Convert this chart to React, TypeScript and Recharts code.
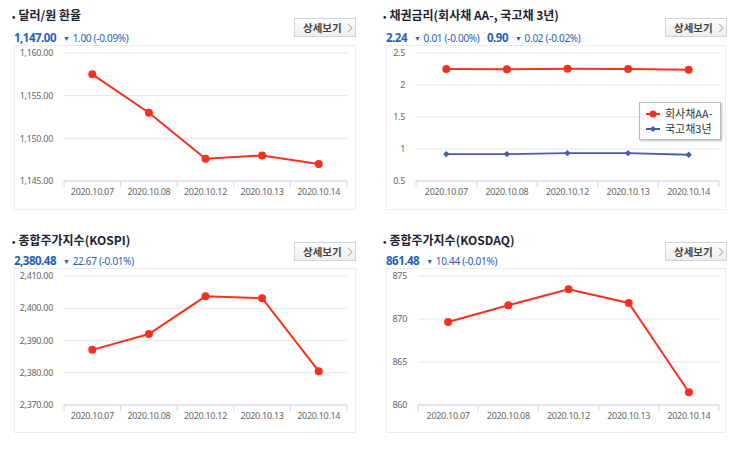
import { LineChart, Line, XAxis, YAxis, CartesianGrid, Legend } from 'recharts'

// categories
const dates = ['2020.10.07', '2020.10.08', '2020.10.12', '2020.10.13', '2020.10.14']

// series values
const usdKrw = [1157.5, 1153.0, 1147.6, 1148.0, 1147.0]
const corpAA = [2.25, 2.245, 2.255, 2.25, 2.24]
const govt3y = [0.92, 0.92, 0.935, 0.935, 0.91]
const kospi = [2387.1, 2392.0, 2403.7, 2403.1, 2380.48]
const kosdaq = [869.65, 871.6, 873.45, 871.86, 861.48]

// y ticks
const usdTicks = [1145, 1150, 1155, 1160]
const bondTicks = [0.5, 1, 1.5, 2, 2.5]
const kospiTicks = [2370, 2380, 2390, 2400, 2410]
const kosdaqTicks = [860, 865, 870, 875]

const RED = '#f8301f'
const BLUE = '#4a5ba8'
const KR = '"Noto Sans CJK KR", "Noto Sans", sans-serif'
const NUM = '"Noto Sans", sans-serif'

const fmt2 = (v: number) => v.toLocaleString('en-US', { minimumFractionDigits: 2, maximumFractionDigits: 2 })
const fmtPlain = (v: number) => String(v)

type Series = { key: string; name: string; values: number[]; color: string; dot: 'circle' | 'diamond' }

const DiamondDot = (props: any) => {
  const { cx, cy, fill } = props
  if (cx == null || cy == null) return null
  const r = 3.2
  return <path d={`M${cx},${cy - r}L${cx + r},${cy}L${cx},${cy + r}L${cx - r},${cy}Z`} fill={fill} />
}

function BandTick(props: any) {
  const { x, y, payload, index, half, count } = props
  const axisY = y - 8
  return (
    <g>
      <line x1={x - half} x2={x - half} y1={axisY} y2={axisY + 6} stroke="#ccd6eb" />
      {index === count - 1 && <line x1={x + half} x2={x + half} y1={axisY} y2={axisY + 6} stroke="#ccd6eb" />}
      <text x={x} y={y} dy="0.71em" textAnchor="middle" fill="#666" fontSize={9} letterSpacing={-0.3} fontFamily={NUM}>
        {payload.value}
      </text>
    </g>
  )
}

function LegendBox({ series }: { series: Series[] }) {
  return (
    <div
      style={{
        background: '#fff',
        border: '1px solid #bbb',
        boxShadow: '1px 1px 2px rgba(0,0,0,0.25)',
        padding: '3px 8px 3px 6px',
        fontFamily: KR,
        fontSize: 11,
        color: '#333',
        lineHeight: '15px',
      }}
    >
      {series.map((s) => (
        <div key={s.key} style={{ display: 'flex', alignItems: 'center', gap: 5, height: 15 }}>
          <svg width={14} height={10}>
            <line x1={0} x2={14} y1={5} y2={5} stroke={s.color} strokeWidth={2} />
            {s.dot === 'circle' ? (
              <circle cx={7} cy={5} r={3.5} fill={s.color} />
            ) : (
              <path d="M7,2L10,5L7,8L4,5Z" fill={s.color} />
            )}
          </svg>
          <span>{s.name}</span>
        </div>
      ))}
    </div>
  )
}

interface ChartProps {
  left: number
  top: number
  width: number
  height: number
  yWidth: number
  right: number
  xHeight: number
  ticks: number[]
  format: (v: number) => string
  series: Series[]
  legend?: boolean
}

function Chart({ left, top, width, height, yWidth, right, xHeight, ticks, format, series, legend }: ChartProps) {
  const data = dates.map((d, i) => {
    const row: Record<string, any> = { date: d }
    series.forEach((s) => (row[s.key] = s.values[i]))
    return row
  })
  const plotW = width - yWidth - right
  const half = plotW / (dates.length * 2)
  return (
    <div
      style={{
        position: 'absolute',
        left,
        top,
        width,
        height,
        boxSizing: 'border-box',
        border: '1px solid #ececec',
      }}
    >
      <div style={{ position: 'absolute', left: -1, top: -1 }}>
        <LineChart width={width} height={height} data={data} margin={{ top: 8, right, left: 0, bottom: 0 }}>
          <CartesianGrid vertical={false} stroke="#e6e6e6" />
          <XAxis
            dataKey="date"
            height={xHeight}
            padding={{ left: half, right: half }}
            stroke="#ccd6eb"
            tickLine={false}
            interval={0}
            tick={<BandTick half={half} count={dates.length} />}
          />
          <YAxis
            width={yWidth}
            domain={[ticks[0], ticks[ticks.length - 1]]}
            ticks={ticks}
            axisLine={false}
            tickLine={false}
            tickMargin={5}
            tickFormatter={format}
            tick={{ fill: '#666', fontSize: 9, fontFamily: NUM, letterSpacing: -0.3 }}
          />
          {legend && (
            <Legend
              layout="vertical"
              align="center"
              verticalAlign="middle"
              wrapperStyle={{ left: 253, top: 57, width: 'auto' }}
              content={() => <LegendBox series={series} />}
            />
          )}
          {series.map((s) => (
            <Line
              key={s.key}
              type="linear"
              dataKey={s.key}
              name={s.name}
              stroke={s.color}
              strokeWidth={s.dot === 'circle' ? 2 : 1.8}
              dot={s.dot === 'circle' ? { r: 4, fill: s.color, stroke: s.color, strokeWidth: 0 } : <DiamondDot fill={s.color} />}
              activeDot={false}
              isAnimationActive={false}
            />
          ))}
        </LineChart>
      </div>
    </div>
  )
}

function Title({ left, top, text }: { left: number; top: number; text: string }) {
  return (
    <div
      style={{
        position: 'absolute',
        left,
        top,
        fontFamily: KR,
        fontWeight: 700,
        fontSize: 12,
        lineHeight: '16px',
        color: '#1e2235',
        whiteSpace: 'nowrap',
      }}
    >
      <span style={{ fontSize: 9, marginRight: 3 }}>•</span>
      {text}
    </div>
  )
}

function Quote({ left, top, main, change }: { left: number; top: number; main: string; change: string }) {
  return (
    <div style={{ position: 'absolute', left, top, whiteSpace: 'nowrap', fontFamily: NUM, color: '#1f5fb9', lineHeight: '16px' }}>
      <span style={{ fontWeight: 700, fontSize: 11.5, letterSpacing: -0.5 }}>{main}</span>
      <span style={{ fontSize: 10, marginLeft: 7, letterSpacing: -0.3 }}>
        <span style={{ fontSize: 7, marginRight: 3, verticalAlign: 1 }}>▼</span>
        {change}
      </span>
    </div>
  )
}

function DetailButton({ left, top }: { left: number; top: number }) {
  return (
    <div
      style={{
        position: 'absolute',
        left,
        top,
        width: 62,
        height: 19,
        boxSizing: 'border-box',
        border: '1px solid #d2d2d2',
        background: 'linear-gradient(#ffffff, #eeeeee)',
        fontFamily: KR,
        fontSize: 10.5,
        fontWeight: 700,
        color: '#444',
        lineHeight: '17px',
        paddingLeft: 8,
        whiteSpace: 'nowrap',
      }}
    >
      상세보기
      <svg width={6} height={10} style={{ marginLeft: 5, verticalAlign: -1 }}>
        <path d="M1,1L5,5L1,9" fill="none" stroke="#bbb" strokeWidth={1.2} />
      </svg>
    </div>
  )
}

export default function App() {
  return (
    <div style={{ position: 'absolute', left: 0, top: 0, width: 743, height: 452, background: '#fff', overflow: 'hidden' }}>
      {/* 달러/원 */}
      <Title left={12} top={7} text="달러/원 환율" />
      <Quote left={14} top={28} main="1,147.00" change="1.00 (-0.09%)" />
      <DetailButton left={294} top={18} />
      <Chart
        left={14}
        top={45}
        width={342}
        height={165}
        yWidth={50}
        right={9}
        xHeight={29}
        ticks={usdTicks}
        format={fmt2}
        series={[{ key: 'usd', name: '달러/원', values: usdKrw, color: RED, dot: 'circle' }]}
      />

      {/* 채권금리 */}
      <Title left={383} top={7} text="채권금리(회사채 AA-, 국고채 3년)" />
      <Quote left={386} top={28} main="2.24" change="0.01 (-0.00%)" />
      <Quote left={487} top={28} main="0.90" change="0.02 (-0.02%)" />
      <DetailButton left={665} top={18} />
      <Chart
        left={386}
        top={45}
        width={340}
        height={165}
        yWidth={30}
        right={7}
        xHeight={29}
        ticks={bondTicks}
        format={fmtPlain}
        legend
        series={[
          { key: 'corp', name: '회사채AA-', values: corpAA, color: RED, dot: 'circle' },
          { key: 'govt', name: '국고채3년', values: govt3y, color: BLUE, dot: 'diamond' },
        ]}
      />

      {/* KOSPI */}
      <Title left={12} top={232} text="종합주가지수(KOSPI)" />
      <Quote left={14} top={251} main="2,380.48" change="22.67 (-0.01%)" />
      <DetailButton left={294} top={242} />
      <Chart
        left={14}
        top={268}
        width={342}
        height={165}
        yWidth={50}
        right={9}
        xHeight={28}
        ticks={kospiTicks}
        format={fmt2}
        series={[{ key: 'kospi', name: 'KOSPI', values: kospi, color: RED, dot: 'circle' }]}
      />

      {/* KOSDAQ */}
      <Title left={383} top={232} text="종합주가지수(KOSDAQ)" />
      <Quote left={386} top={251} main="861.48" change="10.44 (-0.01%)" />
      <DetailButton left={665} top={242} />
      <Chart
        left={386}
        top={268}
        width={340}
        height={165}
        yWidth={32}
        right={7}
        xHeight={28}
        ticks={kosdaqTicks}
        format={fmtPlain}
        series={[{ key: 'kosdaq', name: 'KOSDAQ', values: kosdaq, color: RED, dot: 'circle' }]}
      />
    </div>
  )
}
